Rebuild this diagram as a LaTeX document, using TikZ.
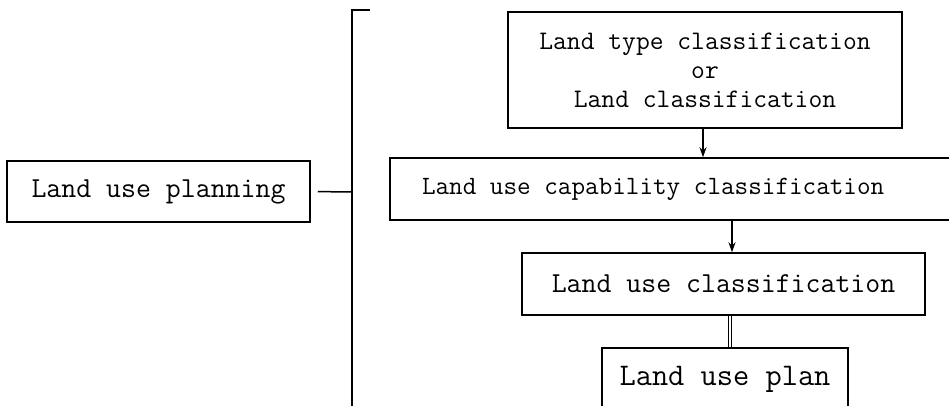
\documentclass[tikz,border=0pt]{standalone}
\usetikzlibrary{arrows.meta}
\begin{document}
\begin{tikzpicture}[x=1pt,y=-1pt,
  box/.style={draw=black, line width=1.5pt, inner sep=0pt, align=center},
  conn/.style={draw=black, line width=1.5pt},
  arr/.style={conn, -{Stealth[length=10pt,width=7pt]}}]
\useasboundingbox (0,0) rectangle (949,405);
\clip (0,0) rectangle (949,405);
% nodes
\node[box, minimum width=303pt, minimum height=61pt, font=\ttfamily\fontsize{29}{34}\selectfont] (plan) at (158.5,191.5) {Land use planning};
\node[box, minimum width=394pt, minimum height=116pt, font=\ttfamily\fontsize{26.8}{29}\selectfont] (lt) at (705,70) {Land type classification\\or\\Land classification};
\node[box, minimum width=600pt, minimum height=62pt, font=\ttfamily\fontsize{26.4}{30}\selectfont] (cap) at (690,189) {\makebox[536pt][l]{Land use capability classification}};
\node[box, minimum width=403pt, minimum height=62pt, font=\ttfamily\fontsize{29}{34}\selectfont] (luc) at (723.5,284) {Land use classification};
\node[box, minimum width=246pt, minimum height=62pt, font=\ttfamily\fontsize{31.5}{36}\selectfont] (lup) at (725,379) {Land use plan};
% bracket
\coordinate (bt) at (352,10);
\coordinate (btr) at (370,10);
\coordinate (bb) at (352,410);
\coordinate (bm) at (352,192);
\draw[conn] (btr) -- (bt) -- (bb);
\draw[conn, shorten <=7pt] (plan.east) -- (bm);
% arrows
\coordinate (a1) at (703,0);
\coordinate (a2) at (732,0);
\coordinate (a3) at (730,0);
\draw[arr] (lt.south -| a1) -- (cap.north -| a1);
\draw[arr] (cap.south -| a2) -- (luc.north -| a2);
\draw[conn, double, double distance=2.5pt, line width=1.1pt] (luc.south -| a3) -- (lup.north -| a3);
\end{tikzpicture}
\end{document}
